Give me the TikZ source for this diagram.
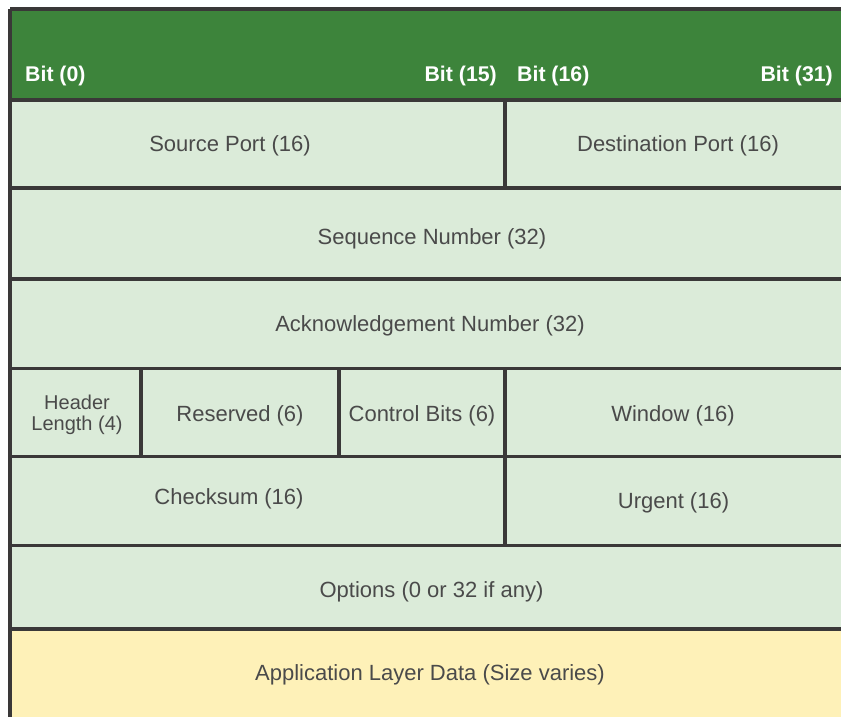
\documentclass[tikz,border=0pt]{standalone}
\usepackage{fontspec}
\setmainfont{Liberation Sans}
\definecolor{hdrgreen}{HTML}{3D843B}
\definecolor{cellgreen}{HTML}{DBEBD9}
\definecolor{datayellow}{HTML}{FEF1B8}
\definecolor{rule}{HTML}{3A3838}
\definecolor{label}{HTML}{4A4A4A}
\tikzset{
  grid/.style={draw=rule, line width=3.3pt},
  field/.style={text=label, font=\fontsize{22}{25}\selectfont, inner sep=0pt, yshift=-2pt},
  bitlbl/.style={text=white, font=\bfseries\fontsize{21.3}{24}\selectfont, inner sep=0pt},
  small/.style={text=label, font=\fontsize{20}{21.5}\selectfont, inner sep=0pt, align=center, yshift=-1pt}
}
\begin{document}
\begin{tikzpicture}[x=1pt,y=-1pt]
\useasboundingbox (0,0) rectangle (841,716);
\fill[white] (0,0) rectangle (841,716);
\clip (0,0) rectangle (841,716);
% background fills
\fill[hdrgreen] (10,9) rectangle (860,100);
\fill[cellgreen] (10,100) rectangle (860,629);
\fill[datayellow] (10,629) rectangle (860,730);
% named corner points of the grid
\coordinate (tl) at (10,9);
\coordinate (tr) at (860,9);
\coordinate (bl) at (10,730);
% row rules
\draw[grid] (tl) -- (tr);
\foreach \y in {100,188,279,368.5,456.5,545.5,629}
  \draw[grid] (10,\y) -- (860,\y);
\draw[grid] (tl) -- (bl);
% column rules
\draw[grid] (505,100) -- (505,188);
\draw[grid] (141,368.5) -- (141,456.5);
\draw[grid] (339,368.5) -- (339,456.5);
\draw[grid] (505,368.5) -- (505,545.5);
% bit labels
\node[bitlbl, anchor=base west] (b0) at (25,81) {Bit (0)};
\node[bitlbl, anchor=base east] (b15) at (497,81) {Bit (15)};
\node[bitlbl, anchor=base west] (b16) at (517,81) {Bit (16)};
\node[bitlbl, anchor=base east] (b31) at (833,81) {Bit (31)};
% fields
\node[field] (srcport) at (230,144) {Source Port (16)};
\node[field] (dstport) at (678,144) {Destination Port (16)};
\node[field] (seq) at (432,237) {Sequence Number (32)};
\node[field] (ack) at (430,324) {Acknowledgement Number (32)};
\node[small] (hlen) at (77,414) {Header\\Length (4)};
\node[field] (resv) at (240,414) {Reserved (6)};
\node[field] (ctrl) at (422,414) {Control Bits (6)};
\node[field] (win) at (673,414) {Window (16)};
\node[field] (csum) at (229,497) {Checksum (16)};
\node[field] (urg) at (673.5,501) {Urgent (16)};
\node[field] (opts) at (431.5,590) {Options (0 or 32 if any)};
\node[field] (data) at (430,673) {Application Layer Data (Size varies)};
\end{tikzpicture}
\end{document}
